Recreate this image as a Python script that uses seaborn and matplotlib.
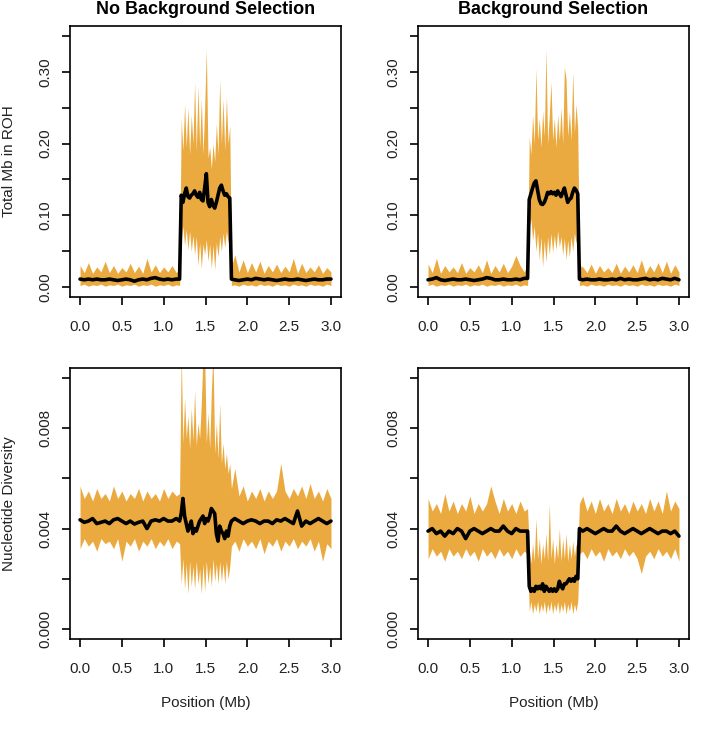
import numpy as np
import pandas as pd
import matplotlib
matplotlib.use("Agg")
import matplotlib.pyplot as plt
import seaborn as sns

# ---------------------------------------------------------------
# DATA
# ---------------------------------------------------------------
# positions along the simulated 3 Mb region; finer steps inside the sweep window
POS = [0.00, 0.05, 0.10, 0.15, 0.20, 0.25, 0.30, 0.35, 0.40, 0.45, 0.50, 0.55,
       0.60, 0.65, 0.70, 0.75, 0.80, 0.85, 0.90, 0.95, 1.00, 1.05, 1.10, 1.15,
       1.19,
       1.21, 1.23, 1.25, 1.27, 1.29, 1.31, 1.33, 1.35, 1.37, 1.39,
       1.41, 1.43, 1.45, 1.47, 1.49, 1.51, 1.53, 1.55, 1.57, 1.59,
       1.61, 1.63, 1.65, 1.67, 1.69, 1.71, 1.73, 1.75, 1.77, 1.79,
       1.81,
       1.85, 1.90, 1.95, 2.00, 2.05, 2.10, 2.15, 2.20, 2.25, 2.30, 2.35, 2.40,
       2.45, 2.50, 2.55, 2.60, 2.65, 2.70, 2.75, 2.80, 2.85, 2.90, 2.95, 3.00]

# Total Mb in ROH, no background selection: mean and replicate envelope
ROH_NB_MEAN = [0.011, 0.010, 0.011, 0.010, 0.011, 0.010, 0.010, 0.011, 0.010, 0.009, 0.010, 0.011,
               0.010, 0.008, 0.010, 0.011, 0.010, 0.012, 0.013, 0.011, 0.010, 0.011, 0.010, 0.011,
               0.011,
               0.128, 0.118, 0.130, 0.138, 0.126, 0.124, 0.128, 0.130, 0.134, 0.128,
               0.125, 0.132, 0.122, 0.120, 0.138, 0.158, 0.118, 0.112, 0.122, 0.114,
               0.110, 0.118, 0.128, 0.138, 0.142, 0.134, 0.128, 0.130, 0.126, 0.124,
               0.011,
               0.010, 0.009, 0.010, 0.011, 0.010, 0.012, 0.011, 0.010, 0.011, 0.010, 0.009, 0.010,
               0.011, 0.010, 0.010, 0.011, 0.010, 0.009, 0.010, 0.011, 0.010, 0.010, 0.011, 0.011]
ROH_NB_HI = [0.030, 0.020, 0.034, 0.019, 0.028, 0.021, 0.036, 0.020, 0.030, 0.019, 0.027, 0.021,
             0.033, 0.020, 0.029, 0.019, 0.040, 0.021, 0.031, 0.020, 0.028, 0.021, 0.030, 0.020,
             0.026,
             0.235, 0.190, 0.255, 0.195, 0.250, 0.185, 0.240, 0.200, 0.285, 0.190,
             0.280, 0.195, 0.262, 0.185, 0.250, 0.332, 0.180, 0.195, 0.165, 0.200,
             0.175, 0.228, 0.185, 0.290, 0.200, 0.262, 0.190, 0.265, 0.200, 0.225,
             0.028,
             0.045, 0.021, 0.038, 0.020, 0.034, 0.021, 0.036, 0.019, 0.030, 0.021, 0.032, 0.020,
             0.029, 0.021, 0.040, 0.019, 0.033, 0.020, 0.028, 0.021, 0.031, 0.019, 0.027, 0.021]
ROH_NB_LO = [0.002, 0.004, 0.001, 0.003, 0.002, 0.004, 0.001, 0.003, 0.002, 0.004, 0.001, 0.003,
             0.002, 0.004, 0.001, 0.003, 0.002, 0.004, 0.001, 0.003, 0.002, 0.004, 0.001, 0.003,
             0.002,
             0.064, 0.085, 0.058, 0.080, 0.052, 0.078, 0.050, 0.072, 0.045, 0.070,
             0.030, 0.062, 0.026, 0.060, 0.045, 0.066, 0.036, 0.060, 0.026, 0.058,
             0.024, 0.062, 0.042, 0.070, 0.050, 0.075, 0.055, 0.078, 0.062, 0.080,
             0.002,
             0.003, 0.001, 0.004, 0.002, 0.003, 0.001, 0.004, 0.002, 0.003, 0.001, 0.004, 0.002,
             0.003, 0.001, 0.004, 0.002, 0.003, 0.001, 0.004, 0.002, 0.003, 0.001, 0.004, 0.002]

# Total Mb in ROH, background selection
ROH_BS_MEAN = [0.010, 0.011, 0.013, 0.010, 0.009, 0.010, 0.011, 0.010, 0.010, 0.011, 0.010, 0.009,
               0.010, 0.011, 0.013, 0.012, 0.010, 0.010, 0.011, 0.010, 0.010, 0.011, 0.010, 0.012,
               0.012,
               0.122, 0.130, 0.138, 0.145, 0.148, 0.135, 0.122, 0.116, 0.115, 0.118,
               0.124, 0.132, 0.130, 0.133, 0.130, 0.132, 0.128, 0.134, 0.130, 0.126,
               0.132, 0.138, 0.128, 0.118, 0.122, 0.124, 0.132, 0.138, 0.135, 0.130,
               0.011,
               0.010, 0.011, 0.010, 0.010, 0.011, 0.010, 0.010, 0.011, 0.010, 0.012, 0.010, 0.011,
               0.010, 0.010, 0.011, 0.012, 0.010, 0.011, 0.010, 0.012, 0.011, 0.010, 0.012, 0.010]
ROH_BS_HI = [0.032, 0.020, 0.040, 0.019, 0.030, 0.021, 0.028, 0.020, 0.034, 0.019, 0.027, 0.021,
             0.031, 0.020, 0.038, 0.019, 0.030, 0.021, 0.033, 0.020, 0.029, 0.044, 0.030, 0.021,
             0.030,
             0.210, 0.185, 0.240, 0.200, 0.305, 0.205, 0.235, 0.195, 0.245, 0.210,
             0.332, 0.200, 0.240, 0.286, 0.205, 0.235, 0.195, 0.240, 0.205, 0.250,
             0.200, 0.307, 0.290, 0.210, 0.245, 0.205, 0.300, 0.215, 0.255, 0.220,
             0.030,
             0.028, 0.020, 0.032, 0.019, 0.030, 0.021, 0.027, 0.020, 0.033, 0.019, 0.029, 0.021,
             0.031, 0.020, 0.038, 0.019, 0.030, 0.021, 0.034, 0.020, 0.036, 0.019, 0.031, 0.021]
ROH_BS_LO = [0.002, 0.004, 0.001, 0.003, 0.002, 0.004, 0.001, 0.003, 0.002, 0.004, 0.001, 0.003,
             0.002, 0.004, 0.001, 0.003, 0.002, 0.004, 0.001, 0.003, 0.002, 0.004, 0.001, 0.003,
             0.002,
             0.085, 0.095, 0.065, 0.085, 0.050, 0.075, 0.038, 0.070, 0.028, 0.065,
             0.035, 0.070, 0.045, 0.075, 0.048, 0.072, 0.052, 0.078, 0.056, 0.070,
             0.045, 0.068, 0.038, 0.065, 0.042, 0.070, 0.050, 0.075, 0.062, 0.070,
             0.002,
             0.003, 0.001, 0.004, 0.002, 0.003, 0.001, 0.004, 0.002, 0.003, 0.001, 0.004, 0.002,
             0.003, 0.001, 0.004, 0.002, 0.003, 0.001, 0.004, 0.002, 0.003, 0.001, 0.004, 0.002]

# Nucleotide diversity, no background selection
PI_NB_MEAN = [0.00435, 0.00425, 0.00430, 0.00440, 0.00420, 0.00425, 0.00430, 0.00420, 0.00435, 0.00440, 0.00430, 0.00420,
              0.00430, 0.00418, 0.00425, 0.00430, 0.00400, 0.00430, 0.00435, 0.00430, 0.00440, 0.00430, 0.00430, 0.00440,
              0.00430,
              0.00460, 0.00520, 0.00450, 0.00420, 0.00390, 0.00410, 0.00430, 0.00380, 0.00400, 0.00390,
              0.00410, 0.00430, 0.00440, 0.00450, 0.00420, 0.00440, 0.00430, 0.00450, 0.00480, 0.00470,
              0.00460, 0.00380, 0.00350, 0.00410, 0.00390, 0.00380, 0.00360, 0.00390, 0.00370, 0.00410,
              0.00430,
              0.00440, 0.00430, 0.00420, 0.00430, 0.00435, 0.00430, 0.00420, 0.00430, 0.00430, 0.00420, 0.00435, 0.00430,
              0.00440, 0.00430, 0.00420, 0.00470, 0.00410, 0.00430, 0.00420, 0.00430, 0.00440, 0.00430, 0.00420, 0.00430]
PI_NB_HI = [0.0057, 0.0052, 0.0055, 0.0051, 0.0056, 0.0052, 0.0054, 0.0051, 0.0057, 0.0052, 0.0055, 0.0051,
            0.0054, 0.0052, 0.0056, 0.0051, 0.0055, 0.0052, 0.0054, 0.0051, 0.0056, 0.0052, 0.0055, 0.0053,
            0.0054,
            0.0110, 0.0074, 0.0092, 0.0076, 0.0085, 0.0072, 0.0088, 0.0075, 0.0095, 0.0073,
            0.0082, 0.0076, 0.0090, 0.0110, 0.0110, 0.0074, 0.0086, 0.0072, 0.0095, 0.0110,
            0.0070, 0.0082, 0.0068, 0.0090, 0.0066, 0.0074, 0.0064, 0.0070, 0.0062, 0.0066,
            0.0056,
            0.0064, 0.0053, 0.0057, 0.0051, 0.0055, 0.0052, 0.0056, 0.0051, 0.0055, 0.0052, 0.0055, 0.0066,
            0.0055, 0.0052, 0.0056, 0.0053, 0.0057, 0.0052, 0.0058, 0.0052, 0.0055, 0.0051, 0.0056, 0.0052]
PI_NB_LO = [0.0032, 0.0036, 0.0033, 0.0035, 0.0031, 0.0036, 0.0034, 0.0035, 0.0032, 0.0036, 0.0027, 0.0035,
            0.0033, 0.0036, 0.0031, 0.0035, 0.0033, 0.0036, 0.0032, 0.0035, 0.0033, 0.0036, 0.0032, 0.0035,
            0.0034,
            0.0018, 0.0028, 0.0016, 0.0026, 0.0014, 0.0027, 0.0017, 0.0025, 0.0016, 0.0027,
            0.0018, 0.0024, 0.0014, 0.0026, 0.0015, 0.0027, 0.0018, 0.0025, 0.0017, 0.0028,
            0.0019, 0.0026, 0.0018, 0.0027, 0.0019, 0.0026, 0.0018, 0.0027, 0.0020, 0.0025,
            0.0033,
            0.0035, 0.0031, 0.0036, 0.0033, 0.0035, 0.0032, 0.0036, 0.0030, 0.0035, 0.0033, 0.0036, 0.0031,
            0.0035, 0.0033, 0.0036, 0.0032, 0.0035, 0.0033, 0.0036, 0.0031, 0.0035, 0.0027, 0.0034, 0.0032]

# Nucleotide diversity, background selection
PI_BS_MEAN = [0.0039, 0.0040, 0.0038, 0.0039, 0.0037, 0.0039, 0.0038, 0.0040, 0.0039, 0.0036, 0.0039, 0.0040,
              0.0039, 0.0038, 0.0039, 0.0040, 0.0039, 0.0039, 0.0041, 0.0039, 0.0038, 0.0040, 0.0039, 0.0039,
              0.0039,
              0.0017, 0.0015, 0.0016, 0.0015, 0.0017, 0.0016, 0.0017, 0.0016, 0.0018, 0.0015,
              0.0017, 0.0016, 0.0015, 0.0016, 0.0015, 0.0016, 0.0015, 0.0016, 0.0019, 0.0017,
              0.0016, 0.0018, 0.0018, 0.0019, 0.0020, 0.0019, 0.0020, 0.0019, 0.0021, 0.0020,
              0.0040,
              0.0039, 0.0040, 0.0039, 0.0038, 0.0039, 0.0040, 0.0039, 0.0039, 0.0041, 0.0039, 0.0038, 0.0039,
              0.0040, 0.0039, 0.0038, 0.0039, 0.0040, 0.0039, 0.0038, 0.0039, 0.0039, 0.0038, 0.0039, 0.0037]
PI_BS_HI = [0.0052, 0.0047, 0.0050, 0.0046, 0.0054, 0.0047, 0.0051, 0.0046, 0.0050, 0.0047, 0.0053, 0.0046,
            0.0050, 0.0047, 0.0050, 0.0057, 0.0051, 0.0046, 0.0052, 0.0047, 0.0050, 0.0046, 0.0051, 0.0047,
            0.0048,
            0.0032, 0.0026, 0.0034, 0.0027, 0.0044, 0.0028, 0.0036, 0.0026, 0.0034, 0.0028,
            0.0038, 0.0027, 0.0050, 0.0028, 0.0036, 0.0026, 0.0034, 0.0028, 0.0040, 0.0027,
            0.0036, 0.0028, 0.0038, 0.0027, 0.0034, 0.0028, 0.0035, 0.0029, 0.0034, 0.0030,
            0.0050,
            0.0053, 0.0047, 0.0051, 0.0046, 0.0052, 0.0047, 0.0050, 0.0046, 0.0052, 0.0047, 0.0050, 0.0046,
            0.0051, 0.0047, 0.0050, 0.0046, 0.0052, 0.0047, 0.0051, 0.0046, 0.0055, 0.0047, 0.0051, 0.0048]
PI_BS_LO = [0.0028, 0.0032, 0.0029, 0.0031, 0.0027, 0.0032, 0.0029, 0.0031, 0.0028, 0.0032, 0.0029, 0.0031,
            0.0027, 0.0032, 0.0029, 0.0031, 0.0028, 0.0032, 0.0029, 0.0031, 0.0028, 0.0032, 0.0029, 0.0031,
            0.0030,
            0.0007, 0.0011, 0.0006, 0.0010, 0.0007, 0.0011, 0.0006, 0.0010, 0.0007, 0.0011,
            0.0006, 0.0010, 0.0007, 0.0011, 0.0006, 0.0010, 0.0007, 0.0011, 0.0006, 0.0010,
            0.0007, 0.0011, 0.0006, 0.0010, 0.0007, 0.0011, 0.0006, 0.0010, 0.0007, 0.0011,
            0.0030,
            0.0031, 0.0028, 0.0032, 0.0029, 0.0031, 0.0027, 0.0032, 0.0029, 0.0031, 0.0028, 0.0032, 0.0029,
            0.0031, 0.0028, 0.0022, 0.0029, 0.0031, 0.0028, 0.0032, 0.0029, 0.0031, 0.0028, 0.0032, 0.0027]

TITLES = ["No Background Selection", "Background Selection"]
ROH_TICKS = [0.00, 0.05, 0.10, 0.15, 0.20, 0.25, 0.30, 0.35]
ROH_LABELS = ["0.00", "", "0.10", "", "0.20", "", "0.30", ""]
PI_TICKS = [0.000, 0.002, 0.004, 0.006, 0.008, 0.010]
PI_LABELS = ["0.000", "", "0.004", "", "0.008", ""]
X_TICKS = [0.0, 0.5, 1.0, 1.5, 2.0, 2.5, 3.0]
X_LABELS = ["0.0", "0.5", "1.0", "1.5", "2.0", "2.5", "3.0"]

# ---------------------------------------------------------------
# STYLE
# ---------------------------------------------------------------
sns.set_style("white")
plt.rcParams["font.family"] = ["Liberation Sans", "DejaVu Sans"]
ORANGE = "#E9A12B"
TEXT = "#222222"
FS = 11


def draw_panel(ax, lo, hi, mean, ymax, yticks, ylabels):
    df = pd.DataFrame({"pos": POS, "lo": lo, "hi": hi, "mean": mean})
    ax.fill_between(df["pos"], df["lo"], df["hi"], color=ORANGE, alpha=0.9, lw=0)
    sns.lineplot(data=df, x="pos", y="mean", color="black", lw=2.6, ax=ax)
    pad = 0.04 * ymax
    ax.set_xlim(-0.12, 3.12)
    ax.set_ylim(-pad, ymax + pad)
    ax.set_xticks(X_TICKS)
    ax.set_xticklabels(X_LABELS)
    ax.set_yticks(yticks)
    ax.set_yticklabels(ylabels, rotation=90, va="center")
    ax.set_xlabel("")
    ax.set_ylabel("")
    ax.tick_params(axis="both", direction="out", length=6, width=1.2,
                   bottom=True, left=True, top=False, right=False,
                   color="black", labelcolor=TEXT, labelsize=FS)
    ax.tick_params(axis="x", pad=10.5)
    ax.tick_params(axis="y", pad=6.5)
    for sp in ax.spines.values():
        sp.set_visible(True)
        sp.set_linewidth(1.2)
        sp.set_color("black")


W, H = 726, 755
fig = plt.figure(figsize=(W / 100, H / 100), dpi=100)

lefts = [70, 418]
tops = [26, 368]
aw, ah = 271, 271
axes = {}
for r in range(2):
    for c in range(2):
        axes[(r, c)] = fig.add_axes([lefts[c] / W, 1 - (tops[r] + ah) / H, aw / W, ah / H])

draw_panel(axes[(0, 0)], ROH_NB_LO, ROH_NB_HI, ROH_NB_MEAN, 0.35, ROH_TICKS, ROH_LABELS)
draw_panel(axes[(0, 1)], ROH_BS_LO, ROH_BS_HI, ROH_BS_MEAN, 0.35, ROH_TICKS, ROH_LABELS)
draw_panel(axes[(1, 0)], PI_NB_LO, PI_NB_HI, PI_NB_MEAN, 0.010, PI_TICKS, PI_LABELS)
draw_panel(axes[(1, 1)], PI_BS_LO, PI_BS_HI, PI_BS_MEAN, 0.010, PI_TICKS, PI_LABELS)

for c in range(2):
    cx = (lefts[c] + aw / 2) / W
    fig.text(cx, 1 - 9 / H, TITLES[c], ha="center", va="center",
             fontsize=13, fontweight="bold", color="black")
    fig.text(cx, 1 - 703 / H, "Position (Mb)", ha="center", va="center",
             fontsize=FS, color=TEXT)

fig.text(9 / W, 1 - (tops[0] + ah / 2) / H, "Total Mb in ROH", rotation=90,
         ha="center", va="center", fontsize=FS, color=TEXT)
fig.text(9 / W, 1 - (tops[1] + ah / 2) / H, "Nucleotide Diversity", rotation=90,
         ha="center", va="center", fontsize=FS, color=TEXT)

fig.savefig("out.png", dpi=100)
